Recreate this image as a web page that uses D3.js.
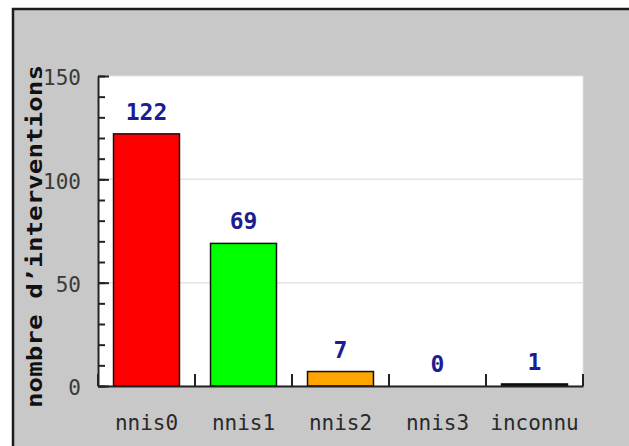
<!DOCTYPE html>
<html>
<head>
<meta charset="utf-8">
<script src="https://cdn.jsdelivr.net/npm/d3@7"></script>
<style>
  body { margin: 0; background: #fff; }
  svg { display: block; }
</style>
</head>
<body>
<svg id="plot"></svg>
<script>
categories = ["nnis0", "nnis1", "nnis2", "nnis3", "inconnu"];
values = [122, 69, 7, 0, 1];
yTicks = [0, 50, 100, 150];
yTitle = "nombre d\u2019interventions";

barColors = ["#ff0000", "#00ff00", "#ffa500", "#0000ff", "#000000"];
svgWidth = 629;
svgHeight = 446;
margin = {top: 76, right: 46, bottom: 60, left: 98};
mono = "'DejaVu Sans Mono', monospace";

function createSVG() {
    const svg = d3.select("#plot")
        .attr("width", svgWidth)
        .attr("height", svgHeight);

    // grey frame, cut by the right and bottom edges
    svg.append("rect")
        .attr("x", 13).attr("y", 9)
        .attr("width", 660).attr("height", 480)
        .attr("fill", "#c8c8c8")
        .attr("stroke", "#1c1c1c")
        .attr("stroke-width", 2.5);

    const x0 = margin.left, x1 = svgWidth - margin.right;
    const y0 = svgHeight - margin.bottom;

    // white plot area
    svg.append("rect")
        .attr("x", x0).attr("y", margin.top)
        .attr("width", x1 - x0).attr("height", y0 - margin.top)
        .attr("fill", "#fff")
        .attr("stroke", "#e2e2e2")
        .attr("stroke-width", 1);

    // grid lines
    svg.append("g")
        .selectAll("line")
        .data(yTicks.filter(d => d > 0 && d < 150))
        .join("line")
        .attr("x1", x0).attr("x2", x1)
        .attr("y1", d => y(d)).attr("y2", d => y(d))
        .attr("stroke", "#e4e4e4")
        .attr("stroke-width", 1.5);

    // bars
    svg.append("g")
        .selectAll("rect")
        .data(values)
        .join("rect")
        .attr("x", (d, i) => x(categories[i]))
        .attr("y", d => y(d))
        .attr("width", x.bandwidth())
        .attr("height", d => y(0) - y(d))
        .attr("fill", (d, i) => barColors[i])
        .attr("stroke", d => d > 0 ? "#111" : "none")
        .attr("stroke-width", 1.5);

    // value labels
    svg.append("g")
        .selectAll("text")
        .data(values)
        .join("text")
        .attr("x", (d, i) => x(categories[i]) + x.bandwidth() / 2)
        .attr("y", d => y(d) - 14)
        .attr("text-anchor", "middle")
        .attr("font-family", mono)
        .attr("font-weight", "bold")
        .attr("font-size", 23)
        .attr("fill", "#1c1c94")
        .text(d => d);

    // y axis: minor + major ticks pointing inside
    const minor = d3.range(0, 151, 10);
    svg.append("g")
        .attr("transform", `translate(${x0},0)`)
        .call(d3.axisRight(y).tickValues(minor).tickSize(7).tickSizeOuter(0).tickFormat(""))
        .call(g => g.selectAll("line").attr("stroke", "#222").attr("stroke-width", 2))
        .call(g => g.select(".domain").attr("stroke", "#222").attr("stroke-width", 2));

    svg.append("g")
        .attr("transform", `translate(${x0},0)`)
        .call(d3.axisRight(y).tickValues(yTicks).tickSize(11).tickFormat(""))
        .call(g => g.select(".domain").remove())
        .call(g => g.selectAll("line").attr("stroke", "#222").attr("stroke-width", 2));

    svg.append("g")
        .attr("transform", `translate(${x0},0)`)
        .call(d3.axisLeft(y).tickValues(yTicks).tickSize(0).tickPadding(17))
        .call(g => g.select(".domain").remove())
        .call(g => g.selectAll("text")
            .attr("font-family", mono)
            .attr("font-size", 21)
            .attr("fill", "#3a3a3a")
            .attr("dy", "0.42em"));

    // x axis line, band boundary ticks and labels
    const edges = categories.map(c => x(c) - (x.step() - x.bandwidth()) / 2)
        .concat([x1]);
    svg.append("g")
        .selectAll("line")
        .data(edges)
        .join("line")
        .attr("x1", d => d).attr("x2", d => d)
        .attr("y1", y0).attr("y2", y0 - 12)
        .attr("stroke", "#222")
        .attr("stroke-width", 2);

    svg.append("g")
        .attr("transform", `translate(0,${y0})`)
        .call(d3.axisBottom(x).tickSize(0).tickPadding(29).tickSizeOuter(0))
        .call(g => g.select(".domain").attr("stroke", "#222").attr("stroke-width", 2))
        .call(g => g.selectAll("text")
            .attr("font-family", mono)
            .attr("font-size", 21)
            .attr("fill", "#2a2a2a"));

    // y title
    svg.append("text")
        .attr("transform", `translate(42,${(65 + 408) / 2}) rotate(-90)`)
        .attr("text-anchor", "middle")
        .attr("font-family", mono)
        .attr("font-weight", "bold")
        .attr("font-size", 22)
        .attr("textLength", 343)
        .attr("lengthAdjust", "spacingAndGlyphs")
        .attr("fill", "#111")
        .text(yTitle);
}

function chartMain() {
    x = d3.scaleBand()
        .domain(categories)
        .range([margin.left, svgWidth - margin.right])
        .paddingInner(0.32)
        .paddingOuter(0.16);

    y = d3.scaleLinear()
        .domain([0, 150])
        .range([svgHeight - margin.bottom, margin.top]);

    createSVG();
}

chartMain();
</script>
</body>
</html>
